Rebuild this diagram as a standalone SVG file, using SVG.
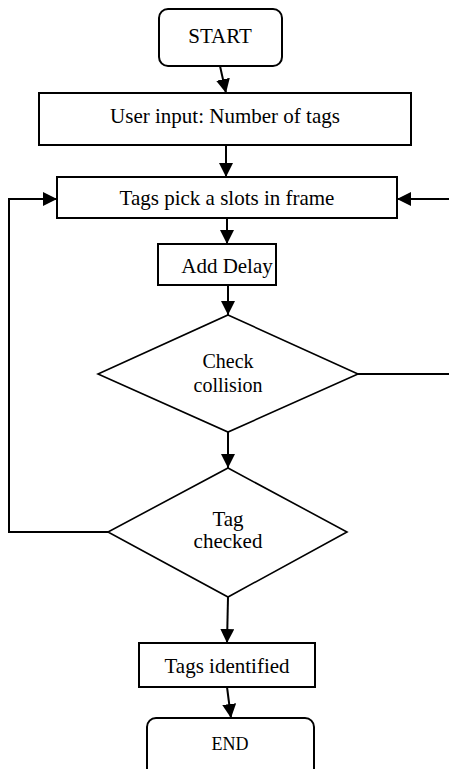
<svg xmlns="http://www.w3.org/2000/svg" width="449" height="769" viewBox="0 0 449 769">
<style>
.box{fill:#fff;stroke:#000;stroke-width:2}
.dia{fill:#fff;stroke:#000;stroke-width:1.6}
text{font-family:'Liberation Serif','Times New Roman','DejaVu Serif',serif;font-size:21px;fill:#000;text-anchor:middle}
.c{fill:none;stroke:#000;stroke-width:2}
</style>
<defs>
<marker id="ah" markerUnits="userSpaceOnUse" markerWidth="14" markerHeight="14" refX="14" refY="7" orient="auto">
<path d="M0,0 L14,7 L0,14 Z" fill="#000"/>
</marker>
</defs>
<rect width="449" height="769" fill="#fff"/>
<g id="connectors">
<line class="c" x1="220" y1="66" x2="226" y2="93" marker-end="url(#ah)"/>
<line class="c" x1="226" y1="145" x2="226" y2="177" marker-end="url(#ah)"/>
<line class="c" x1="227" y1="218" x2="227" y2="244" marker-end="url(#ah)"/>
<line class="c" x1="228" y1="285" x2="228" y2="315" marker-end="url(#ah)"/>
<line class="c" x1="228" y1="432" x2="228" y2="468" marker-end="url(#ah)"/>
<line class="c" x1="228" y1="597" x2="227" y2="643" marker-end="url(#ah)"/>
<line class="c" x1="227" y1="687" x2="231" y2="718" marker-end="url(#ah)"/>
<polyline class="c" points="108,532 9,532 9,199 57,199" marker-end="url(#ah)"/>
<line class="c" x1="358" y1="374" x2="449" y2="374"/>
<line class="c" x1="449" y1="199" x2="397" y2="199" marker-end="url(#ah)"/>
</g>
<g id="start">
<rect class="box" x="159" y="9" width="123" height="57" rx="9"/>
<text x="220" y="43" font-family="Liberation Serif, serif">START</text>
</g>
<g id="user-input">
<rect class="box" x="39" y="93" width="372" height="52"/>
<text x="225" y="123" font-family="Liberation Serif, serif">User input: Number of tags</text>
</g>
<g id="tags-pick">
<rect class="box" x="57" y="177" width="340" height="41"/>
<text x="227" y="205" font-family="Liberation Serif, serif">Tags pick a slots in frame</text>
</g>
<g id="add-delay">
<rect class="box" x="158" y="244" width="118" height="41"/>
<text x="227" y="273" font-family="Liberation Serif, serif">Add Delay</text>
</g>
<g id="check-collision">
<polygon class="dia" points="228,315 358,374 228,432 98,374"/>
<text x="228" y="368" style="font-size:20px">Check</text>
<text x="228" y="392" style="font-size:20px">collision</text>
</g>
<g id="tag-checked">
<polygon class="dia" points="228,468 347,532 228,597 108,532"/>
<text x="228" y="526">Tag</text>
<text x="228" y="548">checked</text>
</g>
<g id="tags-identified">
<rect class="box" x="139" y="643" width="176" height="44"/>
<text x="227" y="673">Tags identified</text>
</g>
<g id="end">
<rect class="box" x="147" y="718" width="167" height="80" rx="9"/>
<text x="230" y="750" style="font-size:18px">END</text>
</g>
</svg>
